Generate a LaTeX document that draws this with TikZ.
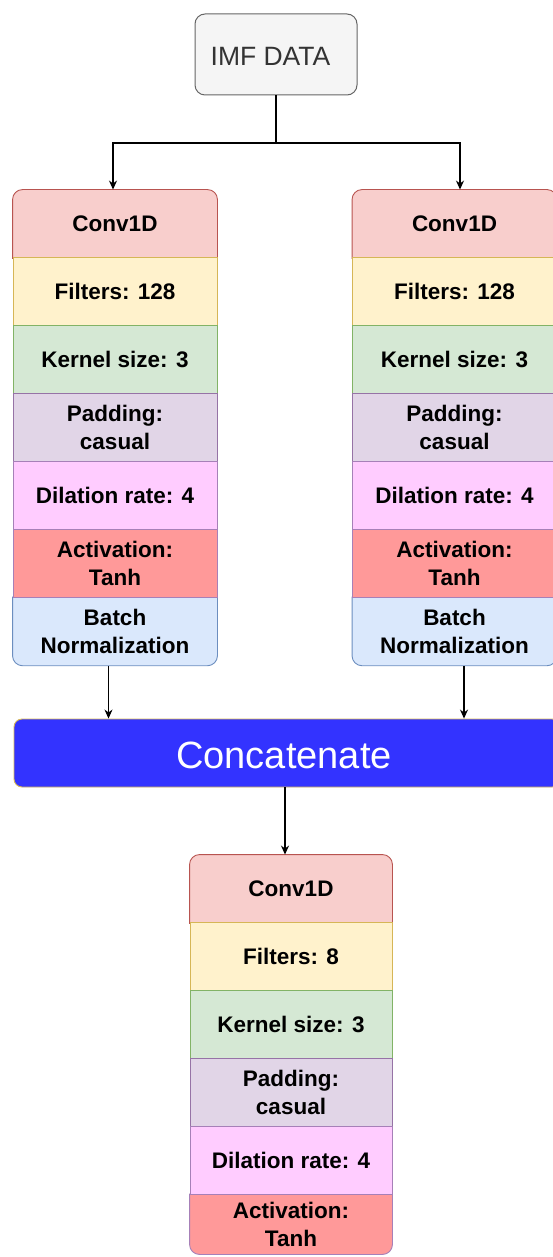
\documentclass[tikz,border=0pt]{standalone}
\usepackage{fontspec}
\setmainfont{Liberation Sans}
\usetikzlibrary{arrows.meta,backgrounds,calc}
\definecolor{convF}{HTML}{F8CECC}\definecolor{convD}{HTML}{B85450}
\definecolor{filF}{HTML}{FFF2CC}\definecolor{filD}{HTML}{D6B656}
\definecolor{kerF}{HTML}{D5E8D4}\definecolor{kerD}{HTML}{82B366}
\definecolor{padF}{HTML}{E1D5E7}\definecolor{padD}{HTML}{9673A6}
\definecolor{dilF}{HTML}{FFCCFF}\definecolor{dilD}{HTML}{A680B8}
\definecolor{actF}{HTML}{FF9999}\definecolor{actD}{HTML}{A680B8}
\definecolor{batF}{HTML}{DAE8FC}\definecolor{batD}{HTML}{6C8EBF}
\definecolor{catF}{HTML}{3333FF}\definecolor{catD}{HTML}{D6B656}
\definecolor{imfF}{HTML}{F5F5F5}\definecolor{imfD}{HTML}{666666}
\definecolor{imfT}{HTML}{333333}
\newcommand{\rowtopbg}[3]{\filldraw[fill=#2,draw=#3,line width=0.9pt] (#1.south west) -- ([yshift=-10pt]#1.north west) arc[start angle=180,end angle=90,radius=10pt] -- ([xshift=-10pt]#1.north east) arc[start angle=90,end angle=0,radius=10pt] -- (#1.south east) -- cycle;}
\newcommand{\rowbotbg}[3]{\filldraw[fill=#2,draw=#3,line width=0.9pt] (#1.north west) -- ([yshift=10pt]#1.south west) arc[start angle=180,end angle=270,radius=10pt] -- ([xshift=-10pt]#1.south east) arc[start angle=270,end angle=360,radius=10pt] -- (#1.north east) -- cycle;}
\tikzset{
  x=1pt,y=1pt,
  row/.style={rectangle,minimum width=204pt,minimum height=67.9pt,inner sep=0pt,align=center,
    font=\fontsize{22.5}{27.5}\selectfont\bfseries,line width=0.9pt},
  brow/.style={row,minimum width=202pt},
  conn/.style={line width=1.2pt,-{Stealth[length=9pt,width=8pt]}},
  plain/.style={line width=1.2pt},
}
\begin{document}
\begin{tikzpicture}
\useasboundingbox (0,0) rectangle (553,-1257);
% IMF data
\node[rectangle,rounded corners=10pt,fill=imfF,draw=imfD,line width=1pt,minimum width=162pt,minimum height=81pt] (imf) at (276,-54.5) {};
\node[text=imfT,font=\fontsize{26.5}{30}\selectfont,inner sep=0pt] (imftxt) at (270.5,-56) {IMF DATA};
% left stack
\node[row] (l1) at (115,-223.95) {Conv1D};
\node[row,fill=filF,draw=filD] (l2) at (115,-291.85) {Filters: 128};
\node[row,fill=kerF,draw=kerD] (l3) at (115,-359.75) {Kernel size: 3};
\node[row,fill=padF,draw=padD] (l4) at (115,-427.65) {Padding:\\casual};
\node[row,fill=dilF,draw=dilD] (l5) at (115,-495.55) {Dilation rate: 4};
\node[row,fill=actF,draw=actD] (l6) at (115,-563.45) {Activation:\\Tanh};
\node[row] (l7) at (115,-631.35) {Batch\\Normalization};
% right stack
\node[row] (r1) at (454.5,-223.95) {Conv1D};
\node[row,fill=filF,draw=filD] (r2) at (454.5,-291.85) {Filters: 128};
\node[row,fill=kerF,draw=kerD] (r3) at (454.5,-359.75) {Kernel size: 3};
\node[row,fill=padF,draw=padD] (r4) at (454.5,-427.65) {Padding:\\casual};
\node[row,fill=dilF,draw=dilD] (r5) at (454.5,-495.55) {Dilation rate: 4};
\node[row,fill=actF,draw=actD] (r6) at (454.5,-563.45) {Activation:\\Tanh};
\node[row] (r7) at (454.5,-631.35) {Batch\\Normalization};
% concatenate
\node[rectangle,rounded corners=8pt,fill=catF,draw=catD,line width=0.9pt,minimum width=546pt,minimum height=68pt,
  inner sep=0pt] (cat) at (287,-753) {};
\node[text=white,font=\fontsize{38}{42}\selectfont,inner sep=0pt] (cattxt) at (284,-755) {Concatenate};
% bottom stack
\node[brow] (b1) at (291,-888.95) {Conv1D};
\node[brow,fill=filF,draw=filD] (b2) at (291,-956.85) {Filters: 8};
\node[brow,fill=kerF,draw=kerD] (b3) at (291,-1024.75) {Kernel size: 3};
\node[brow,fill=padF,draw=padD] (b4) at (291,-1092.65) {Padding:\\casual};
\node[brow,fill=dilF,draw=dilD] (b5) at (291,-1160.55) {Dilation rate: 4};
\node[brow,minimum height=59.5pt] (b6) at (291,-1224.25) {Activation:\\Tanh};
\begin{scope}[on background layer]
\rowtopbg{l1}{convF}{convD}
\rowtopbg{r1}{convF}{convD}
\rowtopbg{b1}{convF}{convD}
\rowbotbg{l7}{batF}{batD}
\rowbotbg{r7}{batF}{batD}
\rowbotbg{b6}{actF}{actD}
\end{scope}
% connectors
\coordinate (split) at ($(imf.south)+(0,-47.5)$);
\draw[plain] (imf.south) -- (split);
\draw[conn] (split) -| ([xshift=-2pt]l1.north);
\draw[conn] (split) -| ([xshift=5.5pt]r1.north);
\draw[conn] ([xshift=-6.5pt]l7.south) -- ([xshift=-6.5pt]l7.south |- cat.north);
\draw[conn] ([xshift=9.5pt]r7.south) -- ([xshift=9.5pt]r7.south |- cat.north);
\draw[conn] ([xshift=-2pt]cat.south) -- ([xshift=-2pt]cat.south |- b1.north);
\end{tikzpicture}
\end{document}
